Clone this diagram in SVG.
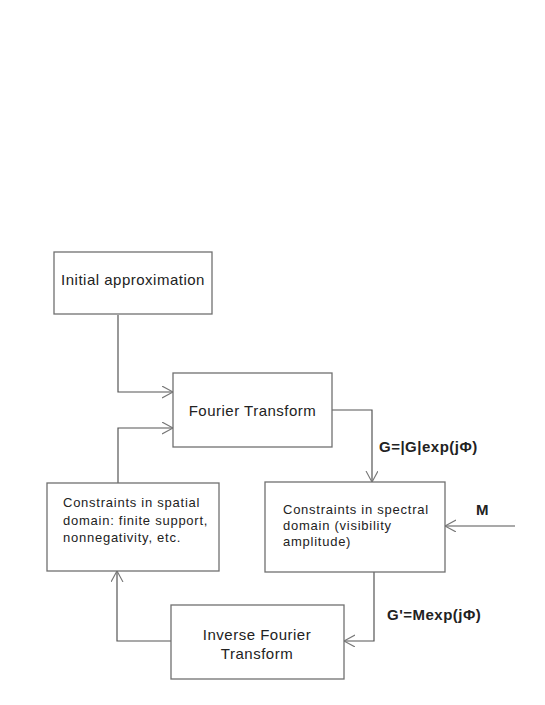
<svg xmlns="http://www.w3.org/2000/svg" width="545" height="705" viewBox="0 0 545 705">
<style>
.box{fill:#fff;stroke:#707070;stroke-width:1.3}
.t{font-family:"Liberation Sans",Arial,sans-serif;fill:#222}
.big{font-size:15px;letter-spacing:0.5px;text-anchor:middle}
.small{font-size:13px;letter-spacing:0.75px}
.lbl{font-size:15px;font-weight:bold;letter-spacing:0.5px}
.c{fill:none;stroke:#555;stroke-width:1.2}
</style>
<defs>
<marker id="ah" markerUnits="userSpaceOnUse" markerWidth="14" markerHeight="14" refX="11" refY="6" orient="auto">
<path d="M0,0 L11,6 L0,12" fill="none" stroke="#777" stroke-width="1.1"/>
</marker>
</defs>
<rect width="545" height="705" fill="#fff"/>
<g id="connectors">
<polyline class="c" points="118,315 118,392 173,392" marker-end="url(#ah)"/>
<polyline class="c" points="118,483 118,428 173,428" marker-end="url(#ah)"/>
<polyline class="c" points="332,410 372,410 372,482" marker-end="url(#ah)"/>
<line class="c" x1="515" y1="526" x2="445" y2="526" marker-end="url(#ah)"/>
<polyline class="c" points="374,572 374,641 344,641" marker-end="url(#ah)"/>
<polyline class="c" points="171,641 117,641 117,571" marker-end="url(#ah)"/>
</g>
<g id="initial">
<rect class="box" x="54" y="252" width="158" height="62"/>
<text class="t big" x="133" y="285">Initial approximation</text>
</g>
<g id="fourier">
<rect class="box" x="173" y="373" width="159" height="74"/>
<text class="t big" x="252.5" y="416">Fourier Transform</text>
</g>
<g id="spatial">
<rect class="box" x="47" y="483" width="172" height="88"/>
<text class="t small" x="63" y="507">Constraints in spatial</text>
<text class="t small" x="63" y="525">domain: finite support,</text>
<text class="t small" x="63" y="542">nonnegativity, etc.</text>
</g>
<g id="spectral">
<rect class="box" x="265" y="482" width="180" height="90"/>
<text class="t small" x="283" y="514">Constraints in spectral</text>
<text class="t small" x="283" y="530">domain (visibility</text>
<text class="t small" x="283" y="546">amplitude)</text>
</g>
<g id="inverse">
<rect class="box" x="171" y="605" width="173" height="74"/>
<text class="t big" x="257" y="640">Inverse Fourier</text>
<text class="t big" x="257" y="659">Transform</text>
</g>
<g id="labels">
<text class="t lbl" x="379" y="452">G=|G|exp(jΦ)</text>
<text class="t lbl" x="476" y="515">M</text>
<text class="t lbl" x="387" y="620">G'=Mexp(jΦ)</text>
</g>
</svg>
